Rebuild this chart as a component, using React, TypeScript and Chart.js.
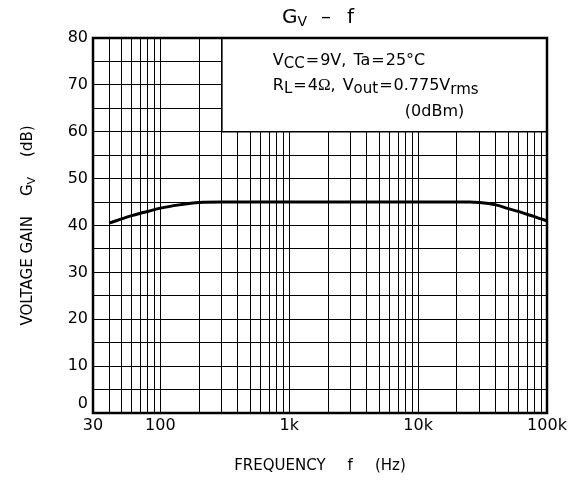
import React, { useEffect, useRef } from "react";
import { Chart, registerables } from "chart.js";

Chart.register(...registerables);

// ---- data ----
const FREQ_HZ = [40, 50, 60, 70, 80, 100, 140, 200, 300, 1000, 10000, 25000, 30000, 40000, 50000, 60000, 70000, 80000, 90000, 100000];
const GAIN_DB = [40.5, 41.4, 42.1, 42.6, 43.0, 43.7, 44.4, 44.9, 45, 45, 45, 45, 44.9, 44.4, 43.6, 43.0, 42.4, 41.9, 41.4, 41.0];

const X_MIN = 30;
const X_MAX = 100000;
const X_GRID = [
  30, 40, 50, 60, 70, 80, 90,
  100, 200, 300, 400, 500, 600, 700, 800, 900,
  1000, 2000, 3000, 4000, 5000, 6000, 7000, 8000, 9000,
  10000, 20000, 30000, 40000, 50000, 60000, 70000, 80000, 90000,
  100000,
];
const X_TICK_VALUES = [30, 100, 1000, 10000, 100000];
const X_TICK_LABELS = ["30", "100", "1k", "10k", "100k"];

const Y_MIN = 0;
const Y_MAX = 80;
const Y_GRID_STEP = 5;
const Y_LABEL_STEP = 10;

// legend box extent (data units)
const NOTE_X_FROM = 300;
const NOTE_Y_FROM = 60;

const FONT = '"DejaVu Sans"';

type Seg = { t: string; size: number; dy?: number; family?: string; adv?: number };

function runWidth(ctx: CanvasRenderingContext2D, segs: Seg[]) {
  let w = 0;
  for (const s of segs) {
    ctx.font = `${s.size}px ${s.family || FONT}`;
    w += ctx.measureText(s.t).width + (s.adv || 0);
  }
  return w;
}

function drawRun(ctx: CanvasRenderingContext2D, x: number, y: number, segs: Seg[]) {
  for (const s of segs) {
    ctx.font = `${s.size}px ${s.family || FONT}`;
    ctx.fillText(s.t, x, y + (s.dy || 0));
    x += ctx.measureText(s.t).width + (s.adv || 0);
  }
}

const textPlugin = {
  id: "texts",
  afterDraw(chart: any) {
    const ctx: CanvasRenderingContext2D = chart.ctx;
    const { left, right, top, bottom } = chart.chartArea;
    const xs = chart.scales.x;
    const ys = chart.scales.y;
    ctx.save();
    ctx.fillStyle = "#000";
    ctx.textBaseline = "alphabetic";
    ctx.textAlign = "left";

    // note box
    const bx = xs.getPixelForValue(NOTE_X_FROM);
    const by = ys.getPixelForValue(NOTE_Y_FROM);
    ctx.fillStyle = "#fff";
    ctx.fillRect(bx, top, right - bx, by - top);
    ctx.strokeStyle = "#000";
    ctx.lineWidth = 1.5;
    ctx.strokeRect(bx, top, right - bx, by - top);
    ctx.fillStyle = "#000";

    const nx = bx + 51;
    drawRun(ctx, nx, top + 27, [
      { t: "V", size: 16 },
      { t: "CC", size: 15, dy: 3, adv: 1 },
      { t: "=", size: 16, adv: 1 },
      { t: "9V,", size: 16, adv: 7 },
      { t: "Ta", size: 16, adv: 1 },
      { t: "=", size: 16, adv: 1 },
      { t: "25°C", size: 16 },
    ]);
    drawRun(ctx, nx, top + 52, [
      { t: "R", size: 16 },
      { t: "L", size: 15, dy: 3, adv: 1 },
      { t: "=", size: 16, adv: 1 },
      { t: "4", size: 16 },
      { t: "Ω", size: 17, family: '"Liberation Serif"' },
      { t: ",", size: 16, adv: 7 },
      { t: "V", size: 16 },
      { t: "out", size: 15, dy: 3, adv: 1 },
      { t: "=", size: 16, adv: 1 },
      { t: "0.775V", size: 16 },
      { t: "rms", size: 15, dy: 4 },
    ]);
    drawRun(ctx, bx + 183, top + 78, [{ t: "(0dBm)", size: 16 }]);

    // plot frame
    ctx.lineWidth = 2.5;
    ctx.strokeRect(left, top, right - left, bottom - top);

    // title
    const cx = (left + right) / 2;
    const titleSegs: Seg[] = [
      { t: "G", size: 20 },
      { t: "V", size: 14, dy: 3, adv: 14 },
      { t: "–", size: 20, adv: 16 },
      { t: "f", size: 20 },
    ];
    drawRun(ctx, cx - runWidth(ctx, titleSegs) / 2 - 2, 23, titleSegs);

    // x title
    const xSegs: Seg[] = [
      { t: "FREQUENCY", size: 15, adv: 22 },
      { t: "f", size: 15, adv: 22 },
      { t: "(Hz)", size: 15 },
    ];
    drawRun(ctx, cx - runWidth(ctx, xSegs) / 2, 470, xSegs);

    // y title (rotated)
    const ySegs: Seg[] = [
      { t: "VOLTAGE GAIN", size: 15, adv: 20 },
      { t: "G", size: 15 },
      { t: "V", size: 11, dy: 3, adv: 20 },
      { t: "(dB)", size: 15 },
    ];
    const cy = (top + bottom) / 2;
    ctx.translate(32, cy);
    ctx.rotate(-Math.PI / 2);
    drawRun(ctx, -runWidth(ctx, ySegs) / 2, 0, ySegs);
    ctx.restore();
  },
};

export default function App() {
  const ref = useRef<HTMLCanvasElement | null>(null);

  useEffect(() => {
    if (!ref.current) return;
    const points = FREQ_HZ.map((f, i) => ({ x: f, y: GAIN_DB[i] }));
    const chart = new Chart(ref.current, {
      type: "line",
      data: {
        datasets: [
          {
            data: points,
            borderColor: "#000",
            borderWidth: 3,
            pointRadius: 0,
            fill: false,
            cubicInterpolationMode: "monotone",
          },
        ],
      },
      options: {
        animation: false,
        responsive: false,
        layout: { padding: { left: 0, top: 38, right: 25, bottom: 30 } },
        plugins: {
          legend: { display: false },
          tooltip: { enabled: false },
          title: { display: false },
        },
        scales: {
          x: {
            type: "logarithmic",
            min: X_MIN,
            max: X_MAX,
            afterBuildTicks: (scale: any) => {
              scale.ticks = X_GRID.map((v) => ({ value: v }));
            },
            afterFit: (scale: any) => {
              scale.height = 40;
            },
            grid: { color: "#000", lineWidth: 1, drawTicks: false },
            border: { display: true, color: "#000", width: 2 },
            ticks: {
              autoSkip: false,
              maxRotation: 0,
              padding: 3,
              color: "#000",
              font: { family: "DejaVu Sans", size: 16 },
              callback: (value: any) => {
                const i = X_TICK_VALUES.indexOf(Number(value));
                return i >= 0 ? X_TICK_LABELS[i] : "";
              },
            },
          },
          y: {
            type: "linear",
            min: Y_MIN,
            max: Y_MAX,
            afterFit: (scale: any) => {
              scale.width = 93;
            },
            grid: { color: "#000", lineWidth: 1, drawTicks: false },
            border: { display: true, color: "#000", width: 2 },
            ticks: {
              stepSize: Y_GRID_STEP,
              autoSkip: false,
              padding: 5,
              color: "#000",
              font: { family: "DejaVu Sans", size: 16 },
              callback: (value: any) => {
                const v = Number(value);
                if (v % Y_LABEL_STEP !== 0) return "";
                return v === Y_MIN ? [String(v), ""] : String(v);
              },
            },
          },
        },
      },
      plugins: [textPlugin],
    } as any);
    return () => chart.destroy();
  }, []);

  return (
    <div style={{ position: "fixed", left: 0, top: 0, width: 572, height: 483, background: "#fff" }}>
      <canvas ref={ref} width={572} height={483} style={{ display: "block" }} />
    </div>
  );
}
